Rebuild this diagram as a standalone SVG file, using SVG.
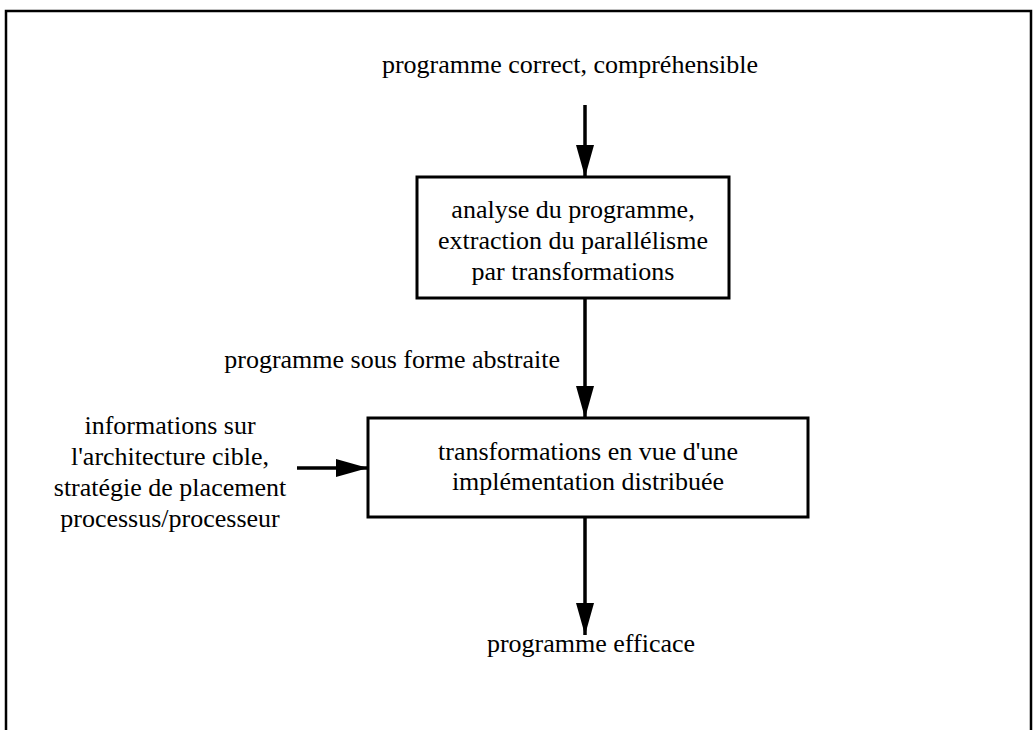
<svg xmlns="http://www.w3.org/2000/svg" width="1035" height="730" viewBox="0 0 1035 730">
  <style>
    .label { font-family: "Liberation Serif", "Times New Roman", serif; font-size: 26px; fill: #000; }
    .box { fill: #fff; stroke: #000; stroke-width: 3; }
    .edge { fill: none; stroke: #000; stroke-width: 3.5; }
    .frame { fill: none; stroke: #000; stroke-width: 2.5; }
  </style>
  <defs>
    <marker id="head" markerUnits="userSpaceOnUse" markerWidth="34" markerHeight="18" refX="32" refY="9" orient="auto">
      <path d="M0,0 L32,9 L0,18 Z" fill="#000"/>
    </marker>
  </defs>

  <rect width="1035" height="730" fill="#fff"/>

  <!-- outer frame, open at the bottom -->
  <path class="frame" d="M6,730 V11 H1031 V730"/>

  <!-- connectors -->
  <g id="connectors">
    <line class="edge" x1="585" y1="105" x2="585" y2="177" marker-end="url(#head)"/>
    <line class="edge" x1="585" y1="298" x2="585" y2="418" marker-end="url(#head)"/>
    <line class="edge" x1="297" y1="468" x2="368" y2="468" marker-end="url(#head)"/>
    <line class="edge" x1="585" y1="517" x2="585" y2="635" marker-end="url(#head)"/>
  </g>

  <!-- input program -->
  <g id="input">
    <text class="label" x="570" y="73" text-anchor="middle">programme correct, compréhensible</text>
  </g>

  <!-- analysis stage -->
  <g id="analyse">
    <rect class="box" x="417" y="177" width="312" height="121"/>
    <text class="label" x="573" y="218" text-anchor="middle">analyse du programme,</text>
    <text class="label" x="573" y="249" text-anchor="middle">extraction du parallélisme</text>
    <text class="label" x="573" y="280" text-anchor="middle">par transformations</text>
  </g>

  <!-- intermediate form -->
  <g id="abstract">
    <text class="label" x="560" y="368" text-anchor="end">programme sous forme abstraite</text>
  </g>

  <!-- target information -->
  <g id="target-info">
    <text class="label" x="170" y="434" text-anchor="middle">informations sur</text>
    <text class="label" x="170" y="465" text-anchor="middle">l'architecture cible,</text>
    <text class="label" x="170" y="496" text-anchor="middle">stratégie de placement</text>
    <text class="label" x="170" y="527" text-anchor="middle">processus/processeur</text>
  </g>

  <!-- distribution stage -->
  <g id="distribution">
    <rect class="box" x="368" y="418" width="440" height="99"/>
    <text class="label" x="588" y="460" text-anchor="middle">transformations en vue d'une</text>
    <text class="label" x="588" y="490" text-anchor="middle">implémentation distribuée</text>
  </g>

  <!-- output program -->
  <g id="output">
    <text class="label" x="591" y="652" text-anchor="middle">programme efficace</text>
  </g>
</svg>
